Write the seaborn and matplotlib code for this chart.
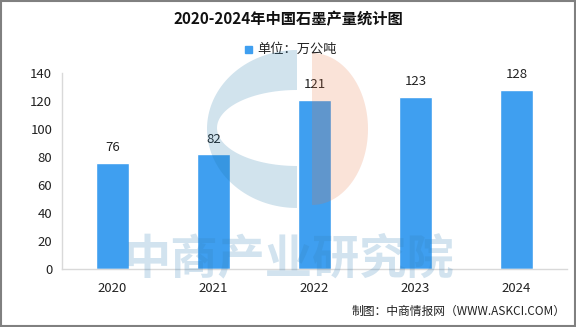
import matplotlib
matplotlib.use("Agg")
import matplotlib.pyplot as plt
import seaborn as sns
import pandas as pd
from matplotlib.patches import Rectangle, PathPatch
from matplotlib.path import Path
import numpy as np

years = ["2020", "2021", "2022", "2023", "2024"]
output = [76, 82, 121, 123, 128]
title = "2020-2024年中国石墨产量统计图"
unit_label = "单位：万公吨"
source = "制图：中商情报网（WWW.ASKCI.COM）"

sns.set_theme(style="white")
plt.rcParams["font.family"] = ["Noto Sans CJK SC", "DejaVu Sans"]

bar_color = "#3f9ff0"
df = pd.DataFrame({"year": years, "output": output})

fig = plt.figure(figsize=(5.76, 3.27), dpi=100)
ax = fig.add_axes([62 / 576, 1 - 269 / 327, (567 - 62) / 576, (269 - 73) / 327])

sns.barplot(data=df, x="year", y="output", color=bar_color, width=0.32,
            saturation=1, ax=ax, zorder=2)

for i, v in enumerate(output):
    ax.text(i, v + 6, str(v), ha="center", va="bottom", fontsize=9.5, color="#222222")

ax.set_ylim(0, 140)
ax.set_yticks(range(0, 141, 20))
ax.set_xlim(-0.5, len(years) - 0.5)
ax.set_xlabel("")
ax.set_ylabel("")
for side in ("top", "right"):
    ax.spines[side].set_visible(False)
for side in ("left", "bottom"):
    ax.spines[side].set_color("#d9d9d9")
    ax.spines[side].set_linewidth(1)
ax.tick_params(axis="y", length=4, color="#d9d9d9", labelsize=9.5, labelcolor="#222222", pad=3)
ax.tick_params(axis="x", which="major", length=0, labelsize=9.5, labelcolor="#222222", pad=9)
ax.set_xticks(np.arange(-0.5, len(years), 1.0), minor=True)
ax.tick_params(axis="x", which="minor", length=4, color="#d9d9d9")

# title, legend and source line
fig.text(0.5, 1 - 19 / 327, title, ha="center", va="center", fontsize=11,
         fontweight="bold", color="#111111")
fig.patches.append(Rectangle((245 / 576, 1 - 53 / 327), 7 / 576, 7 / 327,
                             transform=fig.transFigure, color=bar_color))
fig.text(257 / 576, 1 - 49 / 327, unit_label, ha="left", va="center", fontsize=9.5,
         color="#222222")
fig.text(566 / 576, 1 - 311 / 327, source, ha="right", va="center", fontsize=8.5,
         color="#222222")

# watermark: logo and company name
def ellipse_arc(cx, cy, rx, ry, t0, t1, n=80):
    t = np.linspace(np.radians(t0), np.radians(t1), n)
    return np.column_stack([(cx + rx * np.cos(t)) / 576, 1 - (cy - ry * np.sin(t)) / 327])

outer = ellipse_arc(297, 129, 90, 79, 90, 270)
inner = ellipse_arc(297, 128, 80, 38, 270, 90)
ring = np.vstack([outer, inner, outer[:1]])
fig.patches.append(PathPatch(Path(ring, closed=True), transform=fig.transFigure,
                             facecolor=(0.1, 0.45, 0.65), alpha=0.2, lw=0, zorder=5))
half = ellipse_arc(312, 129, 56, 76, -90, 90)
half = np.vstack([half, half[:1]])
fig.patches.append(PathPatch(Path(half, closed=True), transform=fig.transFigure,
                             facecolor=(0.9, 0.45, 0.25), alpha=0.2, lw=0, zorder=5))
fig.text(289 / 576, 1 - 259 / 327, "中商产业研究院", ha="center", va="center",
         fontsize=34, fontweight="bold", color=(0.2, 0.5, 0.72), alpha=0.22, zorder=6)

# outer frame
fig.patches.append(Rectangle((0.001, 0.002), 0.997, 0.996, transform=fig.transFigure,
                             fill=False, edgecolor="#808080", lw=1.5))

fig.savefig("out.png", dpi=100)
